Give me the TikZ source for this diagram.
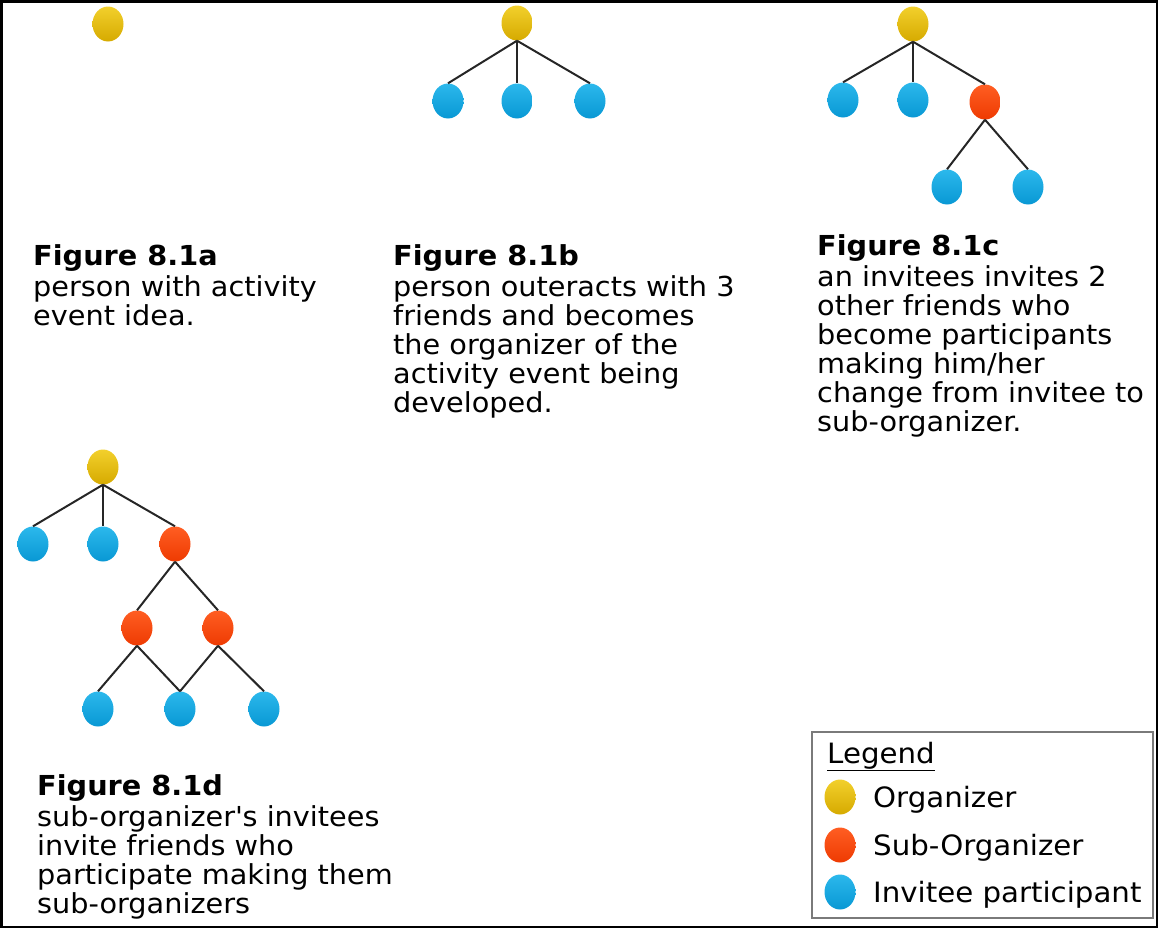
\documentclass[tikz,border=0pt]{standalone}
\usepackage{fontspec}
\setmainfont[FakeStretch=1.045]{DejaVu Sans}
\usetikzlibrary{shapes.geometric}

\definecolor{orgtop}{HTML}{F2D02C}
\definecolor{orgbot}{HTML}{D6AA00}
\definecolor{subtop}{HTML}{FF5E22}
\definecolor{subbot}{HTML}{EE3A02}
\definecolor{invtop}{HTML}{2CB8EC}
\definecolor{invbot}{HTML}{0898D4}
\definecolor{linegray}{HTML}{262626}
\definecolor{boxgray}{HTML}{7A7A7A}

\tikzset{
	person/.style={ellipse, minimum width=31pt, minimum height=35pt, inner sep=0pt},
	organizer/.style={person, top color=orgtop, bottom color=orgbot},
	suborg/.style={person, top color=subtop, bottom color=subbot},
	invitee/.style={person, top color=invtop, bottom color=invbot},
	link/.style={draw=linegray, line width=2pt},
	caption/.style={anchor=north west, align=left, inner sep=0pt, font=\fontsize{27.5}{29}\selectfont},
	legtext/.style={anchor=base west, inner sep=0pt, font=\fontsize{28}{29}\selectfont},
}

\begin{document}
\begin{tikzpicture}[x=1pt, y=-1pt]
		\useasboundingbox (0, 0) rectangle (1160, 930);
		\draw[line width=2.5pt] (1.5, 1.5) rectangle (1157, 927);

		% Figure 8.1a
		\begin{scope}
			\node (a_org) at (108, 24) [organizer] {};
			\node (a_cap) at (33, 244.7) [caption] {\strut\textbf{Figure 8.1a}\\person with activity\\event idea.};
		\end{scope}

		% Figure 8.1b
		\begin{scope}
			\node (b_org) at (517, 23) [organizer] {};
			\node (b_inv1) at (448, 101) [invitee] {};
			\node (b_inv2) at (517, 101) [invitee] {};
			\node (b_inv3) at (590, 101) [invitee] {};
			\draw[link] (b_org.south) -- (b_inv1.north);
			\draw[link] (b_org.south) -- (b_inv2.north);
			\draw[link] (b_org.south) -- (b_inv3.north);
			\node (b_cap) at (393, 244.7) [caption] {\strut\textbf{Figure 8.1b}\\person outeracts with 3\\friends and becomes\\the organizer of the\\activity event being\\developed.};
		\end{scope}

		% Figure 8.1c
		\begin{scope}
			\node (c_org) at (913, 24) [organizer] {};
			\node (c_inv1) at (843, 100) [invitee] {};
			\node (c_inv2) at (913, 100) [invitee] {};
			\node (c_sub) at (985, 102) [suborg] {};
			\node (c_inv3) at (947, 187) [invitee] {};
			\node (c_inv4) at (1028, 187) [invitee] {};
			\draw[link] (c_org.south) -- (c_inv1.north);
			\draw[link] (c_org.south) -- (c_inv2.north);
			\draw[link] (c_org.south) -- (c_sub.north);
			\draw[link] (c_sub.south) -- (c_inv3.north);
			\draw[link] (c_sub.south) -- (c_inv4.north);
			\node (c_cap) at (817, 234.7) [caption] {\strut\textbf{Figure 8.1c}\\an invitees invites 2\\other friends who\\become participants\\making him/her\\change from invitee to\\sub-organizer.};
		\end{scope}

		% Figure 8.1d
		\begin{scope}
			\node (d_org) at (103, 467) [organizer] {};
			\node (d_inv1) at (33, 544) [invitee] {};
			\node (d_inv2) at (103, 544) [invitee] {};
			\node (d_sub) at (175, 544) [suborg] {};
			\node (d_sub1) at (137, 628) [suborg] {};
			\node (d_sub2) at (218, 628) [suborg] {};
			\node (d_inv3) at (98, 709) [invitee] {};
			\node (d_inv4) at (180, 709) [invitee] {};
			\node (d_inv5) at (264, 709) [invitee] {};
			\draw[link] (d_org.south) -- (d_inv1.north);
			\draw[link] (d_org.south) -- (d_inv2.north);
			\draw[link] (d_org.south) -- (d_sub.north);
			\draw[link] (d_sub.south) -- (d_sub1.north);
			\draw[link] (d_sub.south) -- (d_sub2.north);
			\draw[link] (d_sub1.south) -- (d_inv3.north);
			\draw[link] (d_sub1.south) -- (d_inv4.north);
			\draw[link] (d_sub2.south) -- (d_inv4.north);
			\draw[link] (d_sub2.south) -- (d_inv5.north);
			\node (d_cap) at (37, 774.7) [caption] {\strut\textbf{Figure 8.1d}\\sub-organizer\textquotesingle s invitees\\invite friends who\\participate making them\\sub-organizers};
		\end{scope}

		% Legend
		\begin{scope}
			\draw[boxgray, line width=1.6pt] (812, 732) rectangle (1153, 918);
			\node (leg_title) at (827, 763) [legtext] {\underline{Legend}};
			\node (leg_org) at (840, 797) [organizer] {};
			\node (leg_sub) at (840, 845) [suborg] {};
			\node (leg_inv) at (840, 892) [invitee] {};
			\node (leg_org_txt) at (873, 807) [legtext] {Organizer};
			\node (leg_sub_txt) at (873, 855) [legtext] {Sub-Organizer};
			\node (leg_inv_txt) at (873, 902) [legtext] {Invitee participant};
		\end{scope}

	\end{tikzpicture}
\end{document}
